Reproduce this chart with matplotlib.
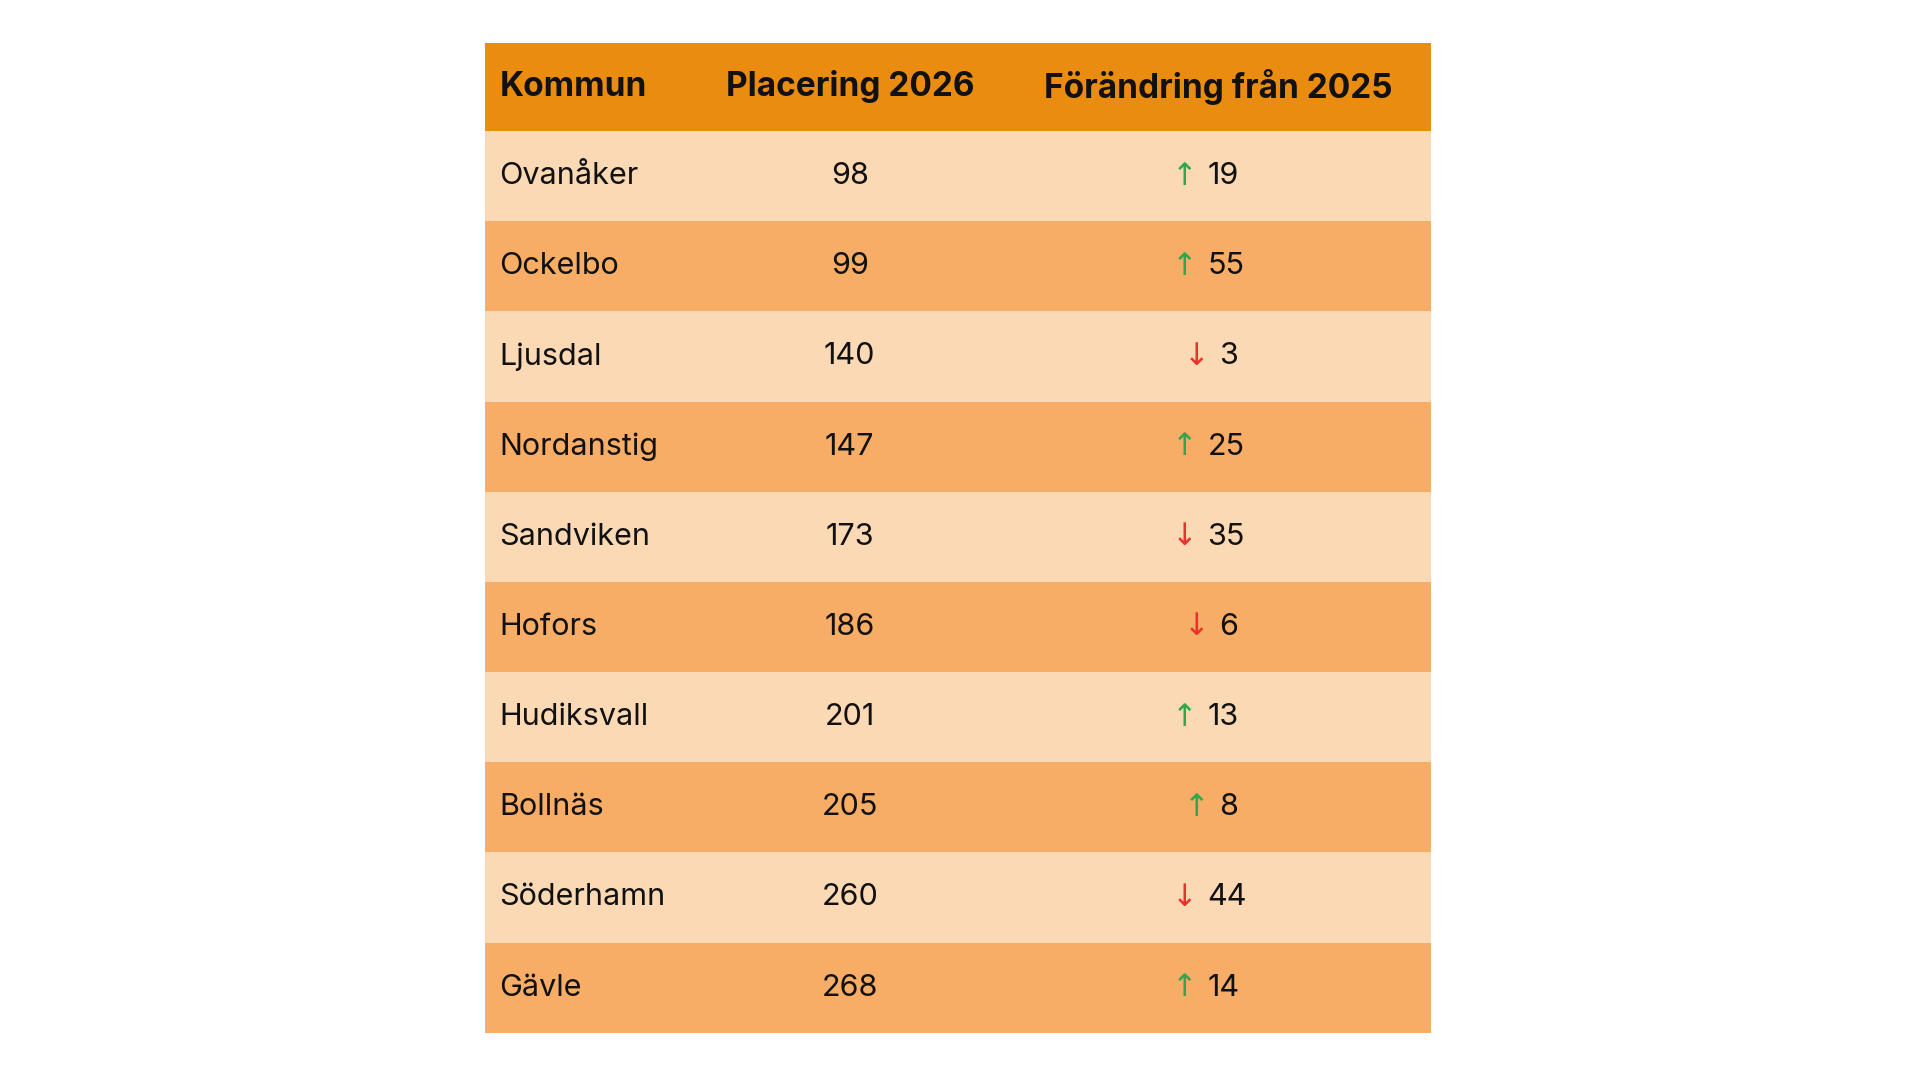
import matplotlib
matplotlib.use("Agg")
import matplotlib.pyplot as plt
from matplotlib.patches import Rectangle

headers = ["Kommun", "Placering 2026", "Förändring från 2025"]
kommuner = ["Ovanåker", "Ockelbo", "Ljusdal", "Nordanstig", "Sandviken", "Hofors",
            "Hudiksvall", "Bollnäs", "Söderhamn", "Gävle"]
placering = [98, 99, 140, 147, 173, 186, 201, 205, 260, 268]
forandring = [19, 55, -3, 25, -35, -6, 13, 8, -44, 14]

fig = plt.figure(figsize=(19.2, 10.78), dpi=100)
ax = fig.add_axes([0, 0, 1, 1])
ax.set_xlim(0, 1568)
ax.set_ylim(880, 0)
ax.axis("off")

L, R = 396, 1169
top, hh, rh = 35, 72, 73.6
FONT = "Inter"
ax.add_patch(Rectangle((L, top), R - L, hh, color="#E98C10", lw=0))
ax.text(408, top + hh / 2, headers[0], ha="left", va="center", fontsize=24, fontweight="bold", family=FONT, color="#111")
ax.text(694, top + hh / 2, headers[1], ha="center", va="center", fontsize=24, fontweight="bold", family=FONT, color="#111")
ax.text(995, top + hh / 2, headers[2], ha="center", va="center", fontsize=24, fontweight="bold", family=FONT, color="#111")

for i, (k, p, f) in enumerate(zip(kommuner, placering, forandring)):
    y0 = top + hh + i * rh
    ax.add_patch(Rectangle((L, y0), R - L, rh, color="#FCD9B5" if i % 2 == 0 else "#F7AD65", lw=0))
    yc = y0 + rh / 2
    ax.text(408, yc, k, ha="left", va="center", fontsize=22, family=FONT, color="#111")
    ax.text(694, yc, str(p), ha="center", va="center", fontsize=22, family=FONT, color="#111")
    num = str(abs(f))
    w = 9.5 * len(num)
    ax.text(995 - w + 10, yc, num, ha="left", va="center", fontsize=22, family=FONT, color="#111")
    arrow = "↑" if f > 0 else "↓"
    col = "#2EA84A" if f > 0 else "#E8332A"
    ax.text(995 - w + 2, yc, arrow, ha="right", va="center", fontsize=22, family="DejaVu Sans", color=col)

fig.savefig("out.png", dpi=100, facecolor="white")
